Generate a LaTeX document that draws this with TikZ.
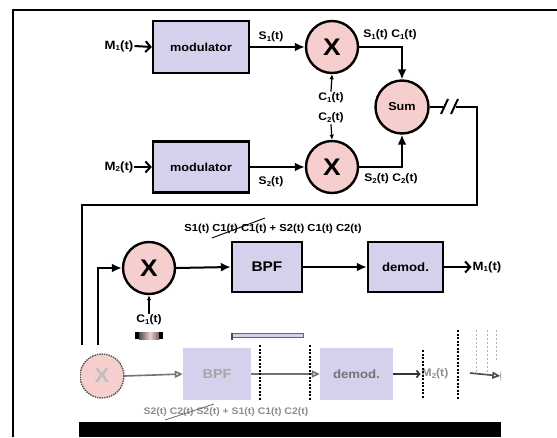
\documentclass[tikz,border=0pt]{standalone}
\usepackage{fontspec}
\setmainfont[FakeStretch=1.1]{Liberation Sans}
\usetikzlibrary{arrows.meta,calc,shadows}
\definecolor{boxfill}{RGB}{212,209,236}
\definecolor{circfill}{RGB}{246,206,206}
\newcommand\lsub[1]{\raisebox{-0.25ex}{\fontsize{7.2}{8}\selectfont #1}}
\begin{document}
\begin{tikzpicture}[x=1pt,y=-1pt,
  box/.style={draw=black,line width=2.4pt,fill=boxfill,inner sep=0pt,
    drop shadow={opacity=0.25,shadow xshift=1.2pt,shadow yshift=-1.2pt},
    font=\fontsize{11.5}{13}\selectfont\bfseries},
  mult/.style={circle,draw=black,line width=2.4pt,fill=circfill,minimum size=52pt,inner sep=0pt,
    drop shadow={opacity=0.25,shadow xshift=1.2pt,shadow yshift=-1.2pt},
    font=\fontsize{24}{26}\selectfont\bfseries},
  lbl/.style={inner sep=1pt,font=\fontsize{11}{12}\selectfont\bfseries},
  mlbl/.style={inner sep=1pt,font=\fontsize{12}{13}\selectfont\bfseries},
  arr/.style={line width=2pt,-{Latex[length=10pt,width=9pt]}},
  sarr/.style={line width=1.2pt,-{Latex[length=5pt,width=4.5pt]}},
  barb/.style={line width=2pt,-{Straight Barb[length=5pt,width=11pt]}},
  wire/.style={line width=2pt},
  ghost/.style={fill=boxfill,draw=none,inner sep=0pt,font=\fontsize{12}{14}\selectfont\bfseries},
  gline/.style={black!55,line width=1.6pt,-{Triangle[open,length=8pt,width=7pt]}},
  glitch/.style={black,line width=1.6pt,dash pattern=on 2pt off 1.5pt},
]
\useasboundingbox (0,0) rectangle (557,437);
% frame
\draw[line width=1.6pt] (13,437) -- (13,10) -- (557,10);

% transmitter
\node[mlbl] (m1) at (119,46) {M\lsub{1}(t)};
\node[box,minimum width=96pt,minimum height=52pt] (mod1) at (201,47) {modulator};
\node[mlbl] (m2) at (119,167) {M\lsub{2}(t)};
\node[box,minimum width=96pt,minimum height=51pt] (mod2) at (201,167) {modulator};
\node[mult] (x1) at (332,47) {X};
\node[mult] (x2) at (332,167) {X};
\node[mult,minimum size=53pt,font=\fontsize{11.5}{13}\selectfont\bfseries] (sum) at (402,107) {Sum};

\draw[barb] (m1.east) -- (mod1.west);
\draw[barb] (m2.east) -- (mod2.west);
\draw[arr] (mod1.east) -- (x1.west);
\draw[arr] (mod2.east) -- (x2.west);
\node[lbl] (s1) at (271,37) {S\lsub{1}(t)};
\node[lbl] (s2) at (271,182) {S\lsub{2}(t)};

\node[lbl] (c1a) at (331,98) {C\lsub{1}(t)};
\node[lbl] (c2a) at (331,118) {C\lsub{2}(t)};
\draw[sarr] (c1a.north) -- (x1.south);
\draw[sarr] (c2a.south) -- (x2.north);

\draw[arr] (x1.east) -| (sum.north);
\draw[arr] (x2.east) -| (sum.south);
\node[lbl] (s1c1) at (390,35) {S\lsub{1}(t) C\lsub{1}(t)};
\node[lbl] (s2c2) at (391,179) {S\lsub{2}(t) C\lsub{2}(t)};

% channel with break
\coordinate (b1) at (444,107);
\coordinate (b2) at (456,107);
\coordinate (f1) at (477,107);
\coordinate (f2) at (82,205);
\coordinate (f3) at (82,345);
\coordinate (br) at (98,345);
\draw[wire] (sum.east) -- (b1);
\draw[wire] (441,114) -- (448,99);
\draw[wire] (451,114) -- (458,99);
\draw[wire] (b2) -- (f1) |- (f2) -- (f3);

% receiver
\node[mult] (x3) at (149,268) {X};
\node[box,minimum width=70pt,minimum height=50pt,font=\fontsize{14}{16}\selectfont\bfseries] (bpf) at (267,267) {BPF};
\node[box,minimum width=75pt,minimum height=50pt,font=\fontsize{12}{14}\selectfont\bfseries] (dem) at (405.5,267) {demod.};
\node[mlbl] (mo) at (487,267) {M\lsub{1}(t)};
\draw[arr] (br) |- (x3.west);
\draw[arr] (x3.east) -- (bpf.west);
\draw[arr] (bpf.east) -- (dem.west);
\draw[barb] (dem.east) -- (mo.west);
\node[lbl] (c1b) at (149,320) {C\lsub{1}(t)};
\draw[sarr] (c1b.north) -- (x3.south);
\node[lbl,font=\fontsize{10.2}{12}\selectfont\bfseries] (lng) at (273,229) {S1(t) C1(t) C1(t) + S2(t) C1(t) C2(t)};
\draw[line width=0.9pt] (212,238) -- (265,218);

% garbled lower copy
\begin{scope}
\clip (80,328) rectangle (501,422);
\fill[black] (135,332) rectangle (139,339);
\shade[left color=black!70,right color=circfill] (139,332) rectangle (150,339);
\shade[left color=circfill,right color=black!60] (150,332) rectangle (159,339);
\fill[black] (159,332) rectangle (163,339);
\draw[fill=boxfill,draw=black!60,line width=1pt] (232,333) rectangle (303,337);
\draw[black!70,line width=1.5pt] (232,333) -- (232,340);
\node[circle,fill=circfill,draw=black!70,densely dotted,line width=1.4pt,minimum size=44pt,inner sep=0pt,
  font=\fontsize{20}{22}\selectfont\bfseries] (gx) at (102,376) {\textcolor{black!25}{X}};
\node[ghost,minimum width=68pt,minimum height=52pt,font=\fontsize{13}{15}\selectfont\bfseries] (gb) at (217,374) {\textcolor{black!35}{BPF}};
\node[ghost,minimum width=73pt,minimum height=52pt] (gd) at (356.5,374) {\textcolor{black!55}{demod.}};
\node[lbl,text=black!45] (gm) at (435,374) {M\lsub{2}(t)};
\draw[gline] (gx.east) -- (gb.west);
\draw[gline] (gb.east) -- (gd.west);
\draw[line width=1.6pt,black!80,-{Straight Barb[length=3pt,width=7pt]}] (gd.east) -- (gm.west);
\node[circle,fill=circfill,draw=black!70,densely dotted,line width=1.4pt,minimum size=44pt] (gr) at (523,376) {};
\draw[gline,black!70] (470,373) -- (gr.west);
\draw[glitch] (260,345) -- (260,400);
\draw[glitch] (310,345) -- (310,400);
\draw[glitch] (423,350) -- (423,398);
\draw[glitch] (458,330) -- (458,400);
\draw[black!30,line width=0.6pt,dash pattern=on 2pt off 2pt] (476,330) -- (476,372);
\draw[black!30,line width=0.6pt,dash pattern=on 2pt off 2pt] (487,330) -- (487,372);
\draw[black!30,line width=0.6pt,dash pattern=on 2pt off 2pt] (496,330) -- (496,360);
\node[lbl,font=\fontsize{9.5}{11}\selectfont\bfseries,text=black!45] (glng) at (226,412) {S2(t) C2(t) S2(t) + S1(t) C1(t) C2(t)};
\draw[black!60,line width=0.8pt] (165,420) -- (214,404);
\end{scope}
\fill[black] (79,422) rectangle (501,437);
\end{tikzpicture}
\end{document}
